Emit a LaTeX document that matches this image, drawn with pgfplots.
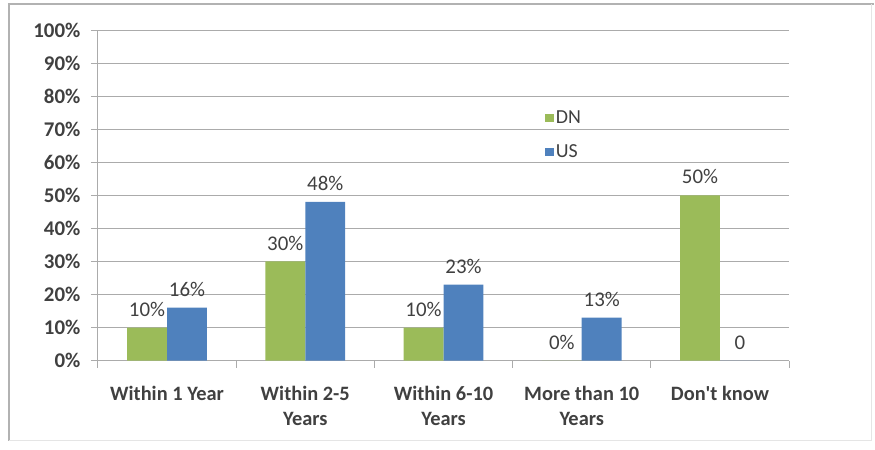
\documentclass[border=0pt]{standalone}
\usepackage{pgfplots}
\pgfplotsset{compat=1.18}
\usepackage{fontspec}
\setmainfont{Carlito}
\definecolor{dngreen}{HTML}{9BBB59}
\definecolor{usblue}{HTML}{4F81BD}
\definecolor{txt}{HTML}{404040}
\definecolor{gridc}{HTML}{ABABAB}
\begin{document}
\begin{tikzpicture}[x=1bp,y=1bp]
\path (0,0) rectangle (875,450);
\draw[gray!60, line width=2bp] (8,445.5) -- (875,445.5);
\draw[gray!60, line width=2bp] (9,446) -- (9,8);
\draw[gray!20] (9,9) -- (872,9) -- (872,446);
\begin{axis}[
  at={(98bp,89bp)}, anchor=south west, scale only axis,
  width=692bp, height=331bp,
  ybar=0pt, bar width=40bp,
  xmin=-0.5, xmax=4.5, ymin=0, ymax=100,
  axis x line*=bottom, axis y line*=left,
  axis line style={draw=gridc, line width=0.8bp},
  ymajorgrids, grid style={draw=gridc, line width=0.8bp},
  xtick={-0.5,0.5,1.5,2.5,3.5,4.5}, xticklabels={},
  extra x ticks={0,1,2,3,4},
  extra x tick labels={Within 1 Year,{Within 2-5\\Years},{Within 6-10\\Years},{More than 10\\Years},Don\textquotesingle t know},
  extra x tick style={major tick length=0pt, grid=none,
    xticklabel style={align=center, font=\fontsize{20.5}{25}\selectfont\bfseries, text=txt, yshift=-22bp}},
  ytick={0,10,...,100},
  yticklabels={0\%,10\%,20\%,30\%,40\%,50\%,60\%,70\%,80\%,90\%,100\%},
  yticklabel style={font=\fontsize{21}{22}\selectfont\bfseries, text=txt, xshift=-7bp},
  tick align=outside, major tick length=7bp,
  tick style={draw=gridc, line width=0.8bp},
  nodes near coords, point meta=explicit symbolic,
  every node near coord/.append style={font=\fontsize{21}{22}\selectfont, text=txt, anchor=south, inner sep=3bp, yshift=8bp},
  legend style={at={(rel axis cs:0.642,0.683)}, anchor=west, draw=none, fill=none,
    font=\fontsize{20}{22}\selectfont, text=txt, row sep=16bp,
    legend cell align=left},
  legend image code/.code={\fill[#1] (0bp,-4bp) rectangle (9bp,4bp);},
]
\addplot[fill=dngreen, draw=none] coordinates {(0,10) [10\%] (1,30) [30\%] (2,10) [10\%] (3,0) [0\%] (4,50) [50\%]};
\addplot[fill=usblue, draw=none] coordinates {(0,16) [16\%] (1,48) [48\%] (2,23) [23\%] (3,13) [13\%] (4,0) [0]};
\legend{DN,US}
\end{axis}
\end{tikzpicture}
\end{document}
